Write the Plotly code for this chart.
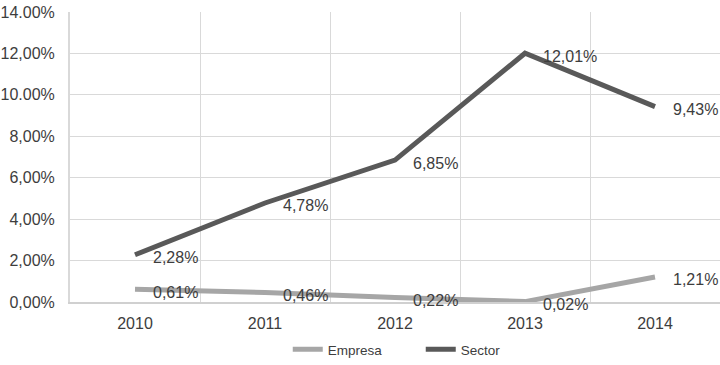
import plotly.graph_objects as go

# Annual rate comparison: company vs. sector
years = ["2010", "2011", "2012", "2013", "2014"]
empresa = [0.61, 0.46, 0.22, 0.02, 1.21]
sector = [2.28, 4.78, 6.85, 12.01, 9.43]

y_tick_vals = [0, 2, 4, 6, 8, 10, 12, 14]
y_tick_text = ["0,00%", "2,00%", "4,00%", "6,00%", "8,00%", "10.00%", "12,00%", "14.00%"]

FONT = "Liberation Sans"
TEXT = "#3d3d3d"
GRID = "#d9d9d9"
C_EMPRESA = "#a6a6a6"
C_SECTOR = "#595959"


def pct(v):
    return f"{v:.2f}".replace(".", ",") + "%"


fig = go.Figure()
fig.add_trace(go.Scatter(x=years, y=empresa, name="Empresa", mode="lines",
                         line=dict(color=C_EMPRESA, width=5)))
fig.add_trace(go.Scatter(x=years, y=sector, name="Sector", mode="lines",
                         line=dict(color=C_SECTOR, width=5)))

# value labels to the right of each point (category axis -> serial index)
for series in (empresa, sector):
    for i, v in enumerate(series):
        fig.add_annotation(x=i, y=v, xref="x", yref="y", text=pct(v), showarrow=False,
                           xanchor="left", yanchor="middle", xshift=16, yshift=-3,
                           font=dict(family=FONT, size=16, color=TEXT))

fig.update_layout(
    width=720, height=365,
    margin=dict(l=70, r=0, t=12, b=61),
    paper_bgcolor="white", plot_bgcolor="white",
    font=dict(family=FONT, size=16, color=TEXT),
    showlegend=True,
    legend=dict(orientation="h", x=0.335, xanchor="left", y=-0.165, yanchor="middle",
                font=dict(family=FONT, size=13.5, color=TEXT),
                entrywidth=88, entrywidthmode="pixels",
                traceorder="normal"),
    xaxis=dict(type="category", range=[-0.5, 4.5], tickson="boundaries",
               showgrid=True, gridcolor=GRID, gridwidth=1,
               showline=True, linecolor="#d0d0d0", linewidth=2,
               ticks="", ticklabelstandoff=6, zeroline=False,
               tickfont=dict(family=FONT, size=16, color=TEXT)),
    yaxis=dict(range=[0, 14], tickvals=y_tick_vals, ticktext=y_tick_text,
               showgrid=True, gridcolor=GRID, gridwidth=1,
               showline=True, linecolor=GRID, linewidth=2,
               zeroline=False, ticks="", ticklabelstandoff=10,
               tickfont=dict(family=FONT, size=16, color=TEXT)),
)

fig.write_html("out.html")
